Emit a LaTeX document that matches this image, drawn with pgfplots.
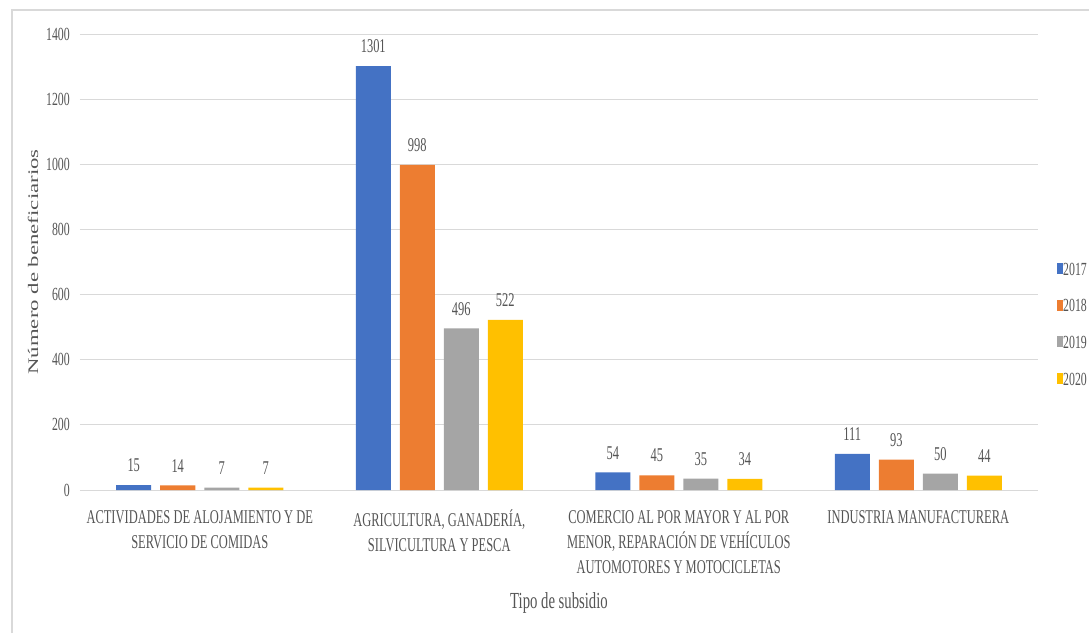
\documentclass[border=0pt]{standalone}
\usepackage{fontspec}
\setmainfont{Liberation Serif}[FakeStretch=0.64]
\newfontfamily\plainserif{Liberation Serif}
\usepackage{pgfplots}
\pgfplotsset{compat=1.18}
\definecolor{c17}{HTML}{4472C4}
\definecolor{c18}{HTML}{ED7D31}
\definecolor{c19}{HTML}{A5A5A5}
\definecolor{c20}{HTML}{FFC000}
\definecolor{txt}{HTML}{555555}
\definecolor{gridc}{HTML}{D9D9D9}
\begin{document}
\begin{tikzpicture}[x=1pt,y=1pt]
\begin{axis}[
  at={(0pt,0pt)}, anchor=south west,
  scale only axis, width=958pt, height=456pt,
  ybar=9pt, bar width=35pt,
  xmin=-0.5, xmax=3.5, ymin=0, ymax=1400,
  ytick={0,200,...,1400},
  xtick={0,1,2,3},
  xticklabels={{ACTIVIDADES DE ALOJAMIENTO Y DE\\SERVICIO DE COMIDAS},{AGRICULTURA, GANADERÍA,\\SILVICULTURA Y PESCA},{COMERCIO AL POR MAYOR Y AL POR\\MENOR, REPARACIÓN DE VEHÍCULOS\\AUTOMOTORES Y MOTOCICLETAS},{INDUSTRIA MANUFACTURERA}},
  axis line style={draw=none},
  ymajorgrids, grid style={gridc, line width=1pt},
  major tick length=0pt, tick style={draw=none},
  yticklabel style={font=\fontsize{18.5}{20}\selectfont, text=txt, anchor=east, inner sep=0pt, xshift=-10pt},
  xticklabel style={font=\fontsize{19.5}{25}\selectfont, text=txt, align=center, anchor=north, inner sep=0pt, yshift=-20pt},
  /pgf/number format/assume math mode=true,
  /pgf/number format/1000 sep={},
  nodes near coords,
  every node near coord/.append style={font=\fontsize{19.5}{20}\selectfont, text=txt, inner sep=0pt, yshift=13pt, anchor=south},
  legend style={font=\fontsize{18.5}{20}\selectfont, text=txt, draw=none, fill=none,
     at={(axis description cs:1.0198,0.362)}, anchor=west, inner sep=0pt, row sep=23pt,
     nodes={inner sep=0pt}},
  legend cell align=left,
  legend image code/.code={\fill[#1] (0pt,-4pt) rectangle (6pt,7pt);},
  xlabel={Tipo de subsidio},
  ylabel={\scalebox{0.64}[1]{\rotatebox{90}{\plainserif\fontsize{22.8}{24}\selectfont Número de beneficiarios}}},
  every axis x label/.style={at={(axis description cs:0.5,-0.248)}, anchor=center, font=\fontsize{23}{24}\selectfont, text=txt},
  every axis y label/.style={at={(axis description cs:-0.049,0.5)}, anchor=center, text=txt},
  clip=false
]
\addplot[fill=c17, draw=none] coordinates {(0,15) (1,1301) (2,54) (3,111)};
\addplot[fill=c18, draw=none] coordinates {(0,14) (1,998) (2,45) (3,93)};
\addplot[fill=c19, draw=none] coordinates {(0,7) (1,496) (2,35) (3,50)};
\addplot[fill=c20, draw=none] coordinates {(0,7) (1,522) (2,34) (3,44)};
\legend{2017,2018,2019,2020}
\end{axis}
\draw[gridc, line width=1.5pt] (-68pt,-143pt) -- (-68pt,480pt) -- (1009pt,480pt);
\pgfresetboundingbox
\useasboundingbox (-80pt,-143pt) rectangle (1009pt,490pt);
\end{tikzpicture}
\end{document}
